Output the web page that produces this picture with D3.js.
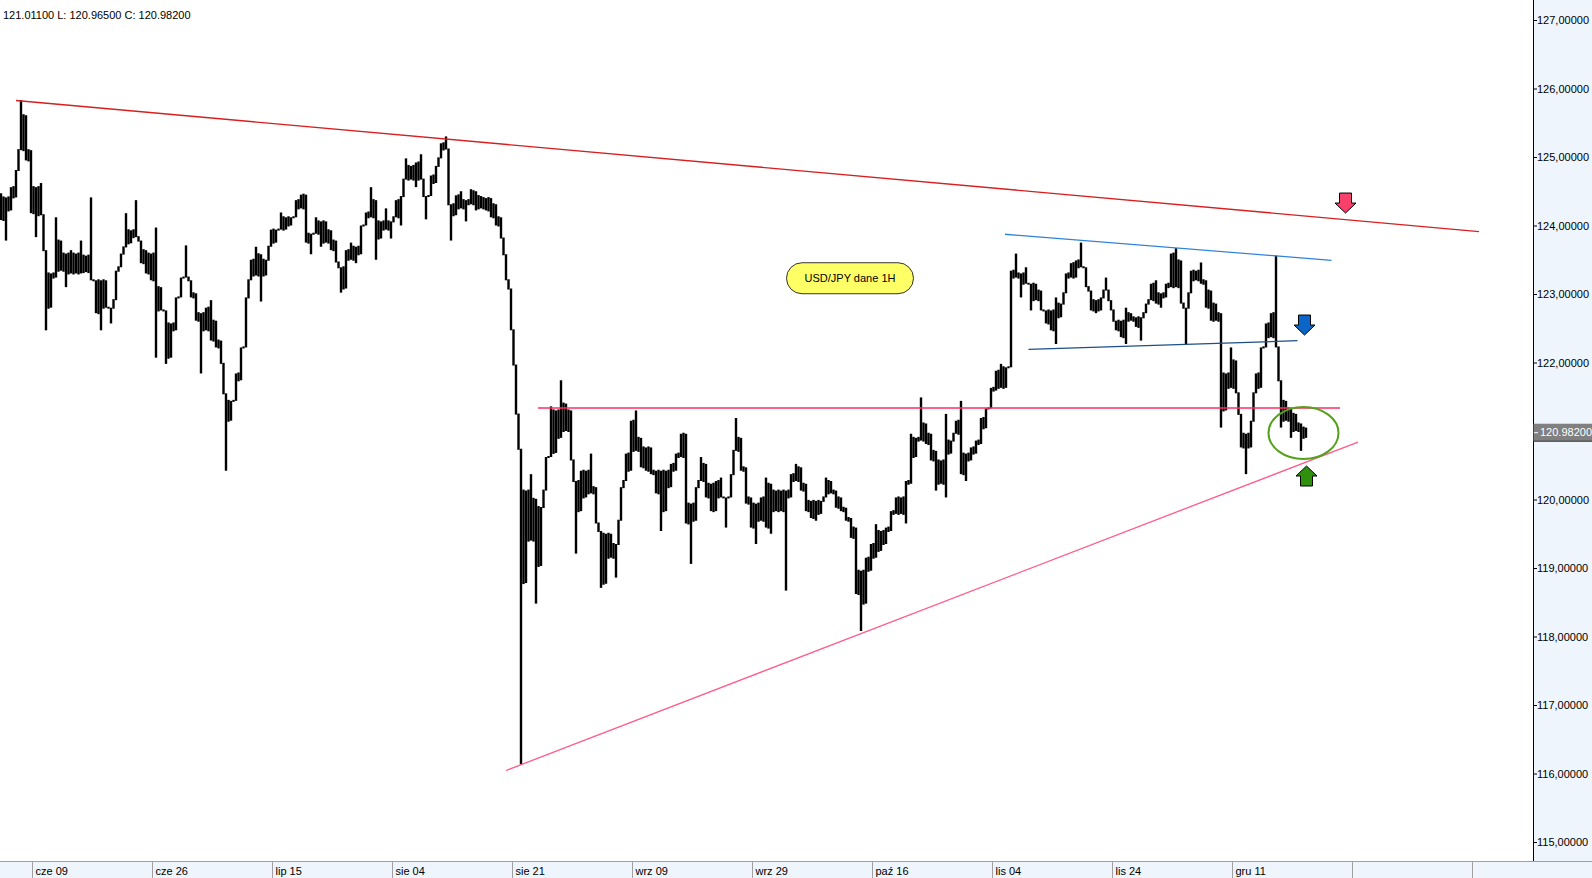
<!DOCTYPE html>
<html>
<head>
<meta charset="utf-8">
<script src="https://cdn.jsdelivr.net/npm/d3@7"></script>
<style>
  html, body { margin: 0; padding: 0; background: #fff; }
  svg { display: block; font-family: "Liberation Sans", Arial, sans-serif; }
</style>
</head>
<body>
<div id="chart"></div>
<script>
// USD/JPY hourly (one high/low pair per ~5 px column)
const highs = [
  124.47,124.41,124.56,124.81,125.83,125.61,125.10,124.56,124.62,123.64,
  123.30,124.12,123.78,123.59,123.64,123.59,123.78,123.56,124.41,123.20,
  123.20,123.20,122.80,123.34,123.59,124.18,123.93,124.37,123.78,123.64,
  123.59,123.97,123.10,122.76,122.57,122.95,123.24,123.71,123.20,123.01,
  122.72,122.80,122.91,122.61,122.32,121.55,121.44,121.84,122.22,122.95,
  123.50,123.69,123.58,123.50,123.94,123.94,124.19,124.12,124.12,124.37,
  124.45,124.45,123.88,124.12,124.06,124.06,123.93,123.78,123.39,123.64,
  123.75,123.69,124.00,124.19,124.56,124.37,124.06,124.25,124.06,124.37,
  124.43,124.98,124.87,124.92,125.04,124.43,124.73,124.87,125.20,125.30,
  124.31,124.44,124.50,124.37,124.53,124.50,124.43,124.40,124.40,124.31,
  124.12,123.58,123.08,121.97,120.74,120.13,120.37,120.01,119.89,120.62,
  121.36,121.30,121.74,121.40,121.30,120.27,120.42,120.42,120.67,120.18,
  119.54,119.50,119.50,119.35,120.18,120.67,121.15,121.30,120.90,120.76,
  120.76,120.42,120.42,120.42,120.52,120.67,120.96,120.96,119.94,120.18,
  120.62,120.52,120.23,120.27,120.32,120.03,120.37,121.19,120.90,120.47,
  120.03,119.94,120.03,120.32,120.23,120.13,120.13,120.13,120.37,120.52,
  120.47,120.23,119.98,119.98,119.98,120.32,120.27,120.13,120.03,119.88,
  119.73,119.59,118.96,119.15,119.35,119.64,119.54,119.59,119.83,120.03,
  120.03,120.27,120.96,120.90,121.49,121.11,120.96,120.71,120.57,121.25,
  120.86,121.15,121.44,120.67,120.76,120.86,121.19,121.33,121.63,121.88,
  121.98,121.93,123.34,123.59,123.30,123.39,123.15,123.15,123.05,122.76,
  122.76,122.95,122.86,123.30,123.45,123.49,123.75,123.39,123.05,122.91,
  122.95,123.24,122.91,122.61,122.61,122.80,122.72,122.66,122.66,122.86,
  123.15,123.20,123.01,123.15,123.59,123.67,123.49,122.80,123.34,123.34,
  123.46,123.20,123.05,122.86,122.72,121.84,122.22,122.03,121.25,120.96,
  121.15,121.84,122.22,122.57,122.72,123.56,121.74,121.44,121.33,121.25,
  121.11,121.05
];
const lows = [
  124.08,123.78,124.22,124.41,125.10,124.95,124.18,123.83,124.15,122.47,
  122.80,123.24,123.34,123.10,123.30,123.30,123.30,123.32,123.20,122.72,
  122.47,122.80,122.57,122.91,123.39,123.68,123.74,123.83,123.45,123.30,
  123.20,122.07,122.76,121.98,122.07,122.47,122.95,123.24,122.95,122.61,
  121.84,122.47,122.32,122.22,121.98,120.42,121.15,121.44,121.74,122.22,
  123.20,123.27,122.89,123.27,123.69,123.75,123.94,123.94,124.00,124.12,
  124.25,123.75,123.58,123.88,123.69,123.75,123.64,123.46,123.02,123.08,
  123.50,123.45,123.58,124.00,124.12,123.50,123.81,123.94,123.81,124.12,
  124.00,124.67,124.67,124.56,124.67,124.09,124.43,124.62,124.98,125.11,
  123.78,124.15,124.25,124.06,124.31,124.22,124.25,124.22,124.12,124.00,
  123.81,123.20,122.47,121.24,116.13,118.78,119.40,118.48,119.03,120.13,
  120.62,120.68,120.90,121.00,120.57,119.21,119.83,120.03,120.09,119.65,
  118.71,118.77,119.15,118.86,119.69,120.27,120.42,120.71,120.47,120.42,
  120.37,120.09,119.54,119.83,120.18,120.42,120.62,119.65,119.06,119.69,
  120.27,120.03,119.83,119.83,120.03,119.59,120.03,120.71,120.42,119.94,
  119.59,119.35,119.69,119.59,119.50,119.83,119.83,118.67,120.03,120.27,
  120.13,119.83,119.73,119.69,119.79,120.03,120.09,119.88,119.83,119.69,
  119.44,118.62,118.08,118.48,118.96,119.15,119.25,119.35,119.54,119.79,
  119.79,119.65,120.23,120.62,120.86,120.81,120.57,120.13,120.23,120.03,
  120.67,120.96,120.37,120.27,120.57,120.67,120.81,121.04,121.33,121.59,
  121.63,121.63,121.93,123.24,122.95,123.15,122.76,122.91,122.76,122.57,
  122.47,122.27,122.66,123.01,123.24,123.24,123.39,123.10,122.76,122.72,
  122.76,123.05,122.76,122.47,122.37,122.27,122.61,122.52,122.32,122.72,
  122.91,122.86,122.80,122.95,123.10,123.10,122.86,122.27,123.01,123.20,
  123.15,122.80,122.61,122.61,121.05,121.30,121.63,121.55,120.76,120.37,
  120.76,121.55,121.63,122.22,122.37,122.22,121.05,121.15,120.90,121.00,
  120.71,120.90
];

const priceTicks = [115, 116, 117, 118, 119, 120, 121, 122, 123, 124, 125, 126, 127];
const dateLabels = ['cze 09', 'cze 26', 'lip 15', 'sie 04', 'sie 21', 'wrz 09', 'wrz 29',
                    'paź 16', 'lis 04', 'lis 24', 'gru 11', '', ''];
const firstLabelBar = 6.14;
const barsPerLabel = 24;

const headerText = '121.01100 L: 120.96500 C: 120.98200';
const lastClose = 120.982;

// trend lines drawn on the chart: [bar, price] pairs
const trendLines = [
  { p: [[3.0, 125.825], [295.6, 123.912]], color: '#d81e1e' },   // upper resistance
  { p: [[107.4, 121.336], [267.8, 121.336]], color: '#ff2d64' }, // horizontal level
  { p: [[101.0, 116.044], [271.4, 120.839]], color: '#ff5a88' }, // rising support
  { p: [[200.8, 123.872], [266.1, 123.492]], color: '#2f82da' }, // channel top
  { p: [[205.5, 122.193], [259.3, 122.318]], color: '#1d4e86' }  // channel bottom
];
// arrows: bar, price of tip, direction, colour
const arrows = [
  { bar: 268.9, price: 124.182, dir: 'down', color: '#f8406c' },
  { bar: 260.7, price: 122.401, dir: 'down', color: '#0b64c8' },
  { bar: 261.1, price: 120.489, dir: 'up',   color: '#2f900e' }
];
const ring = { bar: 260.5, price: 120.971 };
const noteBox = { bar: 169.8, price: 123.23, text: 'USD/JPY dane 1H' };

const W = 1592, H = 878;
const axisX = 1533, axisBottom = 861;

const svg = d3.select('#chart').append('svg')
  .attr('width', W).attr('height', H);

const x = d3.scaleLinear().domain([0, highs.length - 1]).range([1, 1 + 5 * (highs.length - 1)]);
const y = d3.scaleLinear().domain([115, 127]).range([842, 20]);

svg.append('defs').append('clipPath').attr('id', 'plot')
  .append('rect').attr('width', axisX).attr('height', axisBottom);

const plot = svg.append('g').attr('clip-path', 'url(#plot)');

// bars
const bars = highs.map((h, i) => ({ i, h, l: lows[i] }));
plot.append('g').selectAll('line')
  .data(bars)
  .join('line')
  .attr('x1', d => x(d.i)).attr('x2', d => x(d.i))
  .attr('y1', d => y(d.h)).attr('y2', d => y(d.l))
  .attr('stroke', '#000').attr('stroke-width', 2.4);

// in-between strokes so the dense hourly bars read as one band
const joins = bars.slice(0, -1).map((a, k) => {
  const b = bars[k + 1];
  const top = Math.min(a.h, b.h), bot = Math.max(a.l, b.l);
  return { i: k + 0.5, h: Math.max(top, bot), l: Math.min(top, bot) };
});
plot.append('g').selectAll('line')
  .data(joins)
  .join('line')
  .attr('x1', d => x(d.i)).attr('x2', d => x(d.i))
  .attr('y1', d => y(d.h) - 1).attr('y2', d => y(d.l) + 1)
  .attr('stroke', '#000').attr('stroke-width', 2.4);

// trend lines
const line = d3.line().x(d => x(d[0])).y(d => y(d[1]));
plot.append('g').selectAll('path')
  .data(trendLines)
  .join('path')
  .attr('d', d => line(d.p))
  .attr('fill', 'none')
  .attr('stroke', d => d.color)
  .attr('stroke-width', 1.3);

// green ring around the last bars
plot.append('ellipse')
  .attr('cx', x(ring.bar)).attr('cy', y(ring.price))
  .attr('rx', 35).attr('ry', 26)
  .attr('fill', 'none').attr('stroke', '#55a11c').attr('stroke-width', 2);

// arrows
function arrowPath(dir) {
  // tip at 0,0, 21 wide, 20 tall, shaft 12 wide
  const s = dir === 'down' ? -1 : 1;
  return `M0,0 L10.5,${10 * s} L6,${10 * s} L6,${20 * s} L-6,${20 * s} L-6,${10 * s} L-10.5,${10 * s} Z`;
}
plot.append('g').selectAll('path')
  .data(arrows)
  .join('path')
  .attr('transform', d => `translate(${x(d.bar)},${y(d.price)})`)
  .attr('d', d => arrowPath(d.dir))
  .attr('fill', d => d.color)
  .attr('stroke', '#000').attr('stroke-width', 1)
  .attr('stroke-linejoin', 'miter');

// note box
const nb = plot.append('g')
  .attr('transform', `translate(${x(noteBox.bar)},${y(noteBox.price)})`);
nb.append('rect')
  .attr('x', -63.5).attr('y', -15.5).attr('width', 127).attr('height', 31)
  .attr('rx', 15.5).attr('ry', 15.5)
  .attr('fill', '#ffff66').attr('stroke', '#333').attr('stroke-width', 1);
nb.append('text')
  .attr('text-anchor', 'middle').attr('dy', '0.35em')
  .style('font-size', '11px').attr('fill', '#000')
  .text(noteBox.text);

// header
svg.append('text')
  .attr('x', 3).attr('y', 19)
  .style('font-size', '11px').attr('fill', '#000')
  .text(headerText);

// right price axis
const tagY = y(lastClose);
svg.append('rect')
  .attr('x', axisX).attr('y', 0).attr('width', W - axisX).attr('height', axisBottom)
  .attr('fill', '#eef5fd');
const yAxis = svg.append('g')
  .attr('transform', `translate(${axisX},0)`)
  .call(d3.axisRight(y).tickValues(priceTicks).tickSize(4).tickPadding(0)
    .tickFormat(d => d.toFixed(5).replace('.', ',')));
yAxis.select('.domain').remove();
yAxis.selectAll('.tick line').attr('stroke', '#000');
yAxis.selectAll('.tick text')
  .style('font-size', '11px').style('font-family', '"Liberation Sans", Arial, sans-serif')
  .attr('fill', '#000');
// the last-price tag hides the tick label it sits on
yAxis.selectAll('.tick').filter(d => Math.abs(y(d) - tagY) < 12).select('text').remove();
svg.append('line')
  .attr('x1', axisX + 0.5).attr('x2', axisX + 0.5).attr('y1', 0).attr('y2', axisBottom)
  .attr('stroke', '#000').attr('stroke-width', 1);

// last price tag
const tag = svg.append('g').attr('transform', `translate(${axisX},${tagY})`);
tag.append('rect')
  .attr('x', 0.5).attr('y', -8.5).attr('width', W - axisX).attr('height', 17.5)
  .attr('fill', '#808080');
tag.append('line')
  .attr('x1', 0).attr('x2', W - axisX).attr('y1', 9).attr('y2', 9)
  .attr('stroke', '#333').attr('stroke-width', 1);
tag.append('line')
  .attr('x1', 1).attr('x2', 5).attr('y1', 0.5).attr('y2', 0.5)
  .attr('stroke', '#fff').attr('stroke-width', 1);
tag.append('text')
  .attr('x', 7).attr('dy', '0.35em')
  .style('font-size', '11px').attr('fill', '#fff')
  .text(lastClose.toFixed(5));

// bottom date axis
svg.append('rect')
  .attr('x', 0).attr('y', axisBottom).attr('width', W).attr('height', H - axisBottom)
  .attr('fill', '#eef5fd');
svg.append('line')
  .attr('x1', 0).attr('x2', W).attr('y1', axisBottom + 0.5).attr('y2', axisBottom + 0.5)
  .attr('stroke', '#a0a0a0');
const dateTicks = svg.append('g').selectAll('g')
  .data(dateLabels.map((t, k) => ({ t, bar: firstLabelBar + k * barsPerLabel })))
  .join('g')
  .attr('transform', d => `translate(${Math.round(x(d.bar)) + 0.5},${axisBottom})`);
dateTicks.append('line')
  .attr('y1', 0).attr('y2', H - axisBottom)
  .attr('stroke', '#a0a0a0');
dateTicks.append('text')
  .attr('x', 3).attr('y', 14)
  .style('font-size', '11px').attr('fill', '#000')
  .text(d => d.t);
</script>
</body>
</html>
